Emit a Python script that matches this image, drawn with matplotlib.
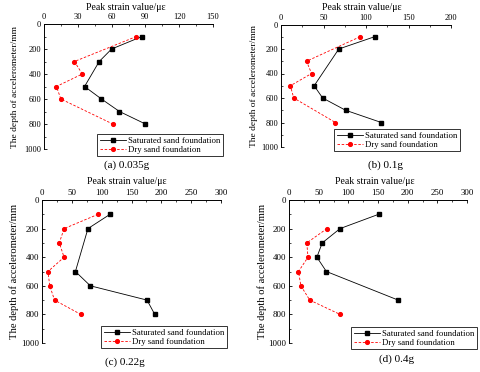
import matplotlib
matplotlib.use("Agg")
import matplotlib.pyplot as plt
from matplotlib.ticker import MultipleLocator, AutoMinorLocator

plt.rcParams['font.family'] = ['Liberation Serif', 'DejaVu Serif']
plt.rcParams['mathtext.fontset'] = 'stix'

# ---------------- data ----------------
# (a) 0.035g
a_sat_depth = [100, 200, 300, 500, 600, 700, 800]
a_sat_val = [87, 60, 49, 36, 51, 67, 90]
a_dry_depth = [100, 300, 400, 500, 600, 800]
a_dry_val = [82, 27, 34, 11, 15, 61]
# (b) 0.1g
b_sat_depth = [100, 200, 500, 600, 700, 800]
b_sat_val = [110, 68, 39, 49, 76, 118]
b_dry_depth = [100, 300, 400, 500, 600, 800]
b_dry_val = [93, 30, 36, 11, 15, 64]
# (c) 0.22g
c_sat_depth = [100, 200, 500, 600, 700, 800]
c_sat_val = [114, 77, 56, 81, 176, 189]
c_dry_depth = [100, 200, 300, 400, 500, 600, 700, 800]
c_dry_val = [94, 37, 29, 37, 10, 13, 21, 65]
# (d) 0.4g
d_sat_depth = [100, 200, 300, 400, 500, 700]
d_sat_val = [151, 86, 56, 47, 63, 184]
d_dry_depth = [200, 300, 400, 500, 600, 700, 800]
d_dry_val = [64, 30, 32, 16, 20, 35, 86]

captions = ["(a) 0.035g", "(b) 0.1g", "(c) 0.22g", "(d) 0.4g"]
xmax = [150, 200, 300, 300]
xstep = [30, 50, 50, 50]
sat_label = "Saturated sand foundation"
dry_label = "Dry sand foundation"
xlabel = "Peak strain value/\u03bc\u03b5"
ylabel = "The depth of accelerometer/mm"

W, H = 480, 372
fig = plt.figure(figsize=(W / 100, H / 100), dpi=100)

def fx(px):
    return px / W

def fy(py):
    return 1 - py / H

# axes rects in pixels: (x0, x1, ytop, ybottom)
rects = [(44, 213, 24, 149), (281, 451, 24.5, 147), (42, 221, 200, 343), (289, 467, 200, 343)]
legend_anchor = [(223, 156), (460, 151), (227, 348), (477, 349)]
caption_pos = [(127, 165), (386, 165), (125, 362), (397, 359)]
xlabel_pos = [(126, 7), (362, 7), (127, 181), (375, 181)]
ylabel_x = [15, 254, 14, 262]
ylabel_fs = [6.8, 6.8, 7.6, 7.6]

series = [
    (a_sat_depth, a_sat_val, a_dry_depth, a_dry_val),
    (b_sat_depth, b_sat_val, b_dry_depth, b_dry_val),
    (c_sat_depth, c_sat_val, c_dry_depth, c_dry_val),
    (d_sat_depth, d_sat_val, d_dry_depth, d_dry_val),
]

for i in range(4):
    x0, x1, yt, yb = rects[i]
    ax = fig.add_axes([fx(x0), fy(yb), (x1 - x0) / W, (yb - yt) / H])
    sd, sv, dd, dv = series[i]
    ax.plot(sv, sd, color='black', lw=0.6, marker='s', ms=2.5, label=sat_label)
    ax.plot(dv, dd, color='red', lw=0.6, ls=(0, (3, 2)), marker='o', ms=2.7, label=dry_label)
    ax.set_xlim(0, xmax[i])
    ax.set_ylim(1000, 0)
    ax.xaxis.set_major_locator(MultipleLocator(xstep[i]))
    ax.xaxis.set_minor_locator(AutoMinorLocator(2))
    ax.yaxis.set_major_locator(MultipleLocator(200))
    ax.yaxis.set_minor_locator(AutoMinorLocator(2))
    ax.xaxis.tick_top()
    fs = 6.0 if i < 2 else 6.4
    ax.tick_params(axis='both', which='major', direction='in', length=2.2, width=0.6,
                   labelsize=fs, pad=2, colors='black')
    ax.tick_params(axis='both', which='minor', direction='in', length=1.2, width=0.5)
    ax.tick_params(axis='x', which='both', top=True, bottom=False)
    for s in ['right', 'bottom']:
        ax.spines[s].set_visible(False)
    for s in ['left', 'top']:
        ax.spines[s].set_linewidth(0.7)
    ax.patch.set_alpha(0)
    lx, ly = legend_anchor[i]
    leg = ax.legend(loc='lower right', bbox_to_anchor=(fx(lx), fy(ly)),
                    bbox_transform=fig.transFigure, fontsize=6.3, frameon=True,
                    fancybox=False, borderpad=0.25, labelspacing=0.12,
                    handlelength=3.0, handletextpad=0.3, borderaxespad=0)
    leg.get_frame().set_edgecolor('black')
    leg.get_frame().set_linewidth(0.7)
    cx, cy = caption_pos[i]
    fig.text(fx(cx), fy(cy), captions[i], ha='center', va='center', fontsize=8)
    tx, ty = xlabel_pos[i]
    fig.text(fx(tx), fy(ty), xlabel, ha='center', va='center', fontsize=7)
    fig.text(fx(ylabel_x[i]), fy((yt + yb) / 2), ylabel, rotation=90,
             ha='center', va='center', fontsize=ylabel_fs[i])

fig.savefig("out.png", dpi=100)
